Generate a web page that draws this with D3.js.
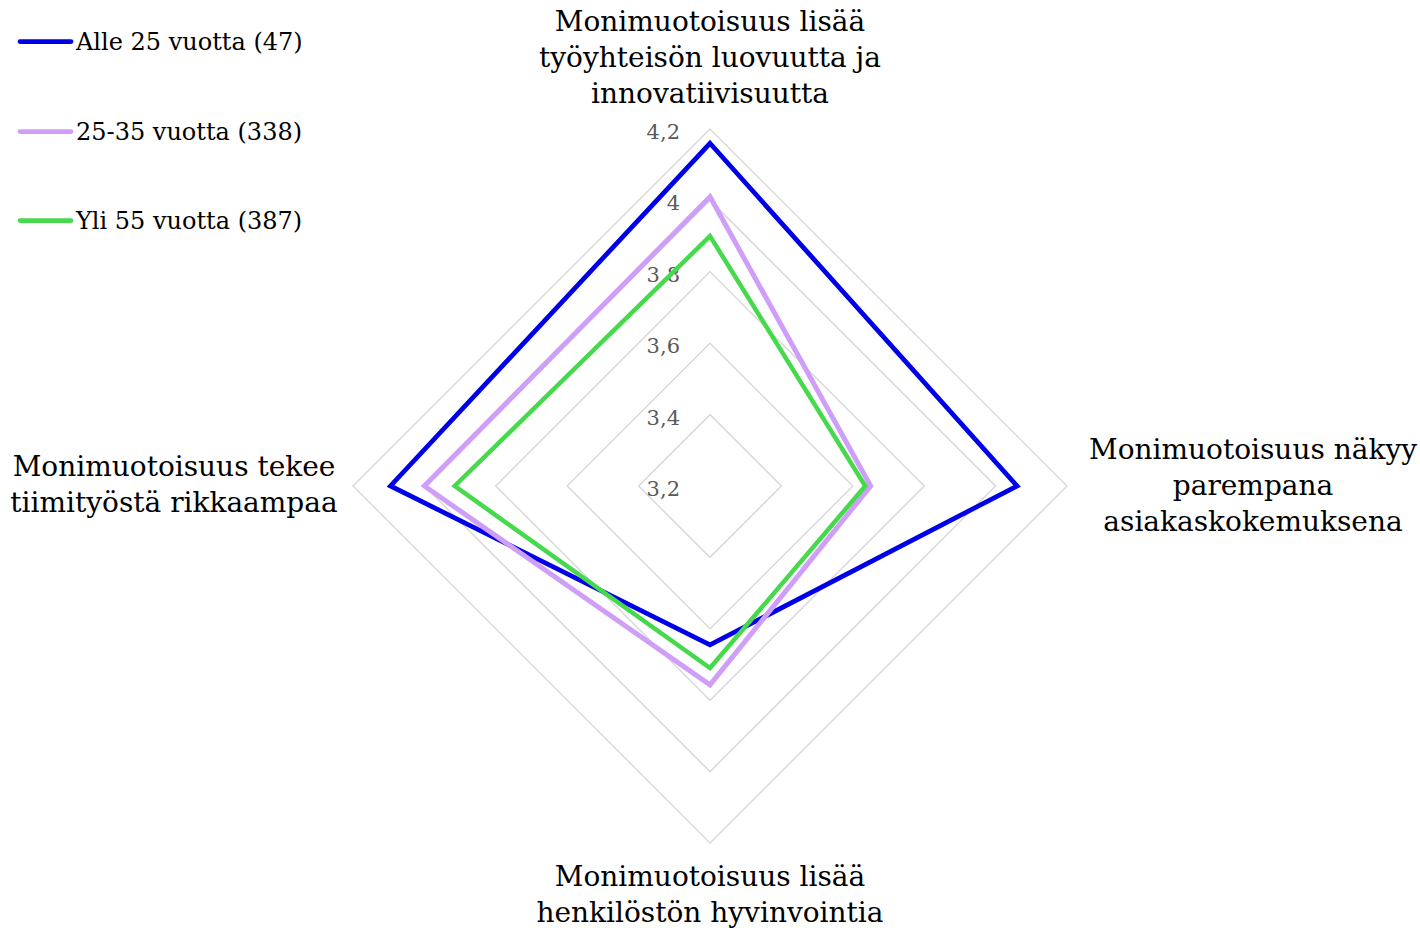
<!DOCTYPE html>
<html><head><meta charset="utf-8">
<script src="https://cdn.jsdelivr.net/npm/d3@7"></script>
<style>html,body{margin:0;padding:0;background:#fff;}svg{display:block;}</style>
</head><body>
<svg id="chart" width="1420" height="928"></svg>
<script>
// ---- data ----
const axisLabels = [
  ["Monimuotoisuus lisää", "työyhteisön luovuutta ja", "innovatiivisuutta"],
  ["Monimuotoisuus näkyy", "parempana", "asiakaskokemuksena"],
  ["Monimuotoisuus lisää", "henkilöstön hyvinvointia"],
  ["Monimuotoisuus tekee", "tiimityöstä rikkaampaa"]
];
const seriesNames = ["Alle 25 vuotta (47)", "25-35 vuotta (338)", "Yli 55 vuotta (387)"];
const alle25 = [4.16, 4.06, 3.645, 4.095];
const v25to35 = [4.01, 3.65, 3.757, 4.0];
const yli55 = [3.90, 3.635, 3.71, 3.915];
const tickValues = [3.2, 3.4, 3.6, 3.8, 4.0, 4.2];
const tickLabels = ["3,2", "3,4", "3,6", "3,8", "4", "4,2"];
const colors = ["#0000E8", "#CF9EF8", "#45D94B"];
const widths = [4.75, 5, 4.5];

// ---- layout ----
const svg = d3.select("#chart");
const cx = 710, cy = 486;
const font = "'DejaVu Serif', 'Liberation Serif', serif";
const r = d3.scaleLinear().domain([3.2, 4.2]).range([0, 357]);
const nAxes = axisLabels.length;
const angle = i => i * 2 * Math.PI / nAxes; // 0 = up, clockwise
const line = d3.lineRadial().angle((d, i) => angle(i)).radius(d => r(d)).curve(d3.curveLinearClosed);

const g = svg.append("g").attr("transform", `translate(${cx},${cy})`);

// grid rings
g.selectAll("path.ring").data(tickValues.slice(1)).join("path")
  .attr("class", "ring")
  .attr("d", v => line(d3.range(nAxes).map(() => v)))
  .attr("fill", "none").attr("stroke", "#d9d9d9").attr("stroke-width", 1.5);

// tick labels
g.selectAll("text.tick").data(tickValues).join("text")
  .attr("class", "tick")
  .attr("x", -30).attr("y", v => -r(v) + 3)
  .attr("text-anchor", "end").attr("dominant-baseline", "central")
  .attr("font-family", font).attr("font-size", 21).attr("fill", "#595959")
  .text((v, i) => tickLabels[i]);

// series
const allSeries = [alle25, v25to35, yli55];
g.selectAll("path.series").data(allSeries).join("path")
  .attr("class", "series")
  .attr("d", d => line(d))
  .attr("fill", "none")
  .attr("stroke", (d, i) => colors[i])
  .attr("stroke-width", (d, i) => widths[i])
  .attr("stroke-linejoin", "miter").attr("stroke-miterlimit", 10);

// axis labels
const labelPos = [
  {x: 710, y: 31, anchor: "middle"},
  {x: 1253, y: 459, anchor: "middle"},
  {x: 710, y: 886, anchor: "middle"},
  {x: 174, y: 476, anchor: "middle"}
];
const lineH = 36;
axisLabels.forEach((lines, i) => {
  const t = svg.append("text")
    .attr("x", labelPos[i].x).attr("y", labelPos[i].y)
    .attr("text-anchor", labelPos[i].anchor)
    .attr("font-family", font).attr("font-size", 28).attr("fill", "#000");
  lines.forEach((s, j) => {
    t.append("tspan").attr("x", labelPos[i].x).attr("dy", j === 0 ? 0 : lineH).text(s);
  });
});

// legend
const legendY = [41.5, 131.5, 220.5];
const leg = svg.append("g");
seriesNames.forEach((name, i) => {
  leg.append("line").attr("x1", 20).attr("x2", 71).attr("y1", legendY[i]).attr("y2", legendY[i])
    .attr("stroke", colors[i]).attr("stroke-width", 4.75).attr("stroke-linecap", "round");
  leg.append("text").attr("x", 76).attr("y", legendY[i] + 8)
    .attr("font-family", font).attr("font-size", 24).attr("fill", "#000").text(name);
});
</script>
</body></html>
